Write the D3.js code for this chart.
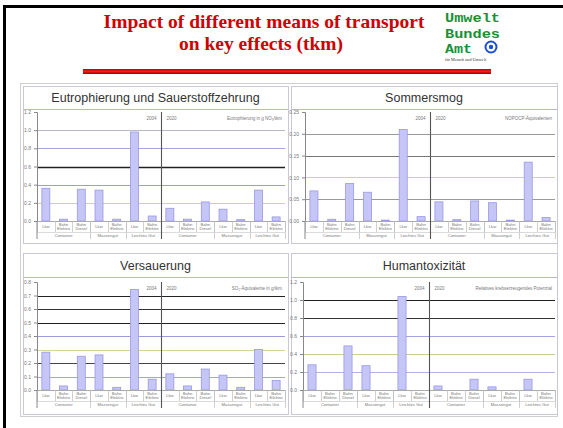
<!DOCTYPE html>
<html><head><meta charset="utf-8">
<script src="https://cdn.jsdelivr.net/npm/d3@7"></script>
<style>body{margin:0;background:#fff}svg{display:block}</style>
</head><body><svg id="c" width="563" height="428"></svg>
<script>
// ---- data ----
const years = ["2004", "2020"];
const groups = ["Container", "Massengut", "Leichtes Gut"];
const groupSizes = [3, 2, 2];
const modes = ["Lkw", "Bahn Elektro", "Bahn Diesel", "Lkw", "Bahn Elektro", "Lkw", "Bahn Elektro"];

const eutroValues = [0.36, 0.02, 0.35, 0.34, 0.02, 0.98, 0.055, 0.14, 0.02, 0.21, 0.13, 0.015, 0.34, 0.045];
const smogValues = [0.069, 0.004, 0.086, 0.066, 0.002, 0.21, 0.01, 0.044, 0.003, 0.046, 0.042, 0.002, 0.135, 0.008];
const versauerValues = [0.28, 0.03, 0.25, 0.26, 0.02, 0.745, 0.08, 0.12, 0.03, 0.155, 0.11, 0.02, 0.30, 0.07];
const humantoxValues = [0.28, 0, 0.49, 0.27, 0, 1.04, 0, 0.045, 0, 0.12, 0.035, 0, 0.12, 0];

const eutroTicks = [0, 0.2, 0.4, 0.6, 0.8, 1.0, 1.2];
const smogTicks = [0, 0.05, 0.10, 0.15, 0.20, 0.25];
const versauerTicks = [0, 0.1, 0.2, 0.3, 0.4, 0.5, 0.6, 0.7, 0.8];
const humantoxTicks = [0, 0.2, 0.4, 0.6, 0.8, 1.0, 1.2];

const titles = ["Eutrophierung und Sauerstoffzehrung", "Sommersmog", "Versauerung", "Humantoxizität"];
const units = ["Eutrophierung in g NO₃/tkm", "NOPOCP-Äquivalenten", "SO₂-Äquivalente in g/tkm", "Relatives krebserzeugendes Potenzial"];

// ---- layout / style ----
const panels = [
  {title: titles[0], unit: units[0], values: eutroValues, ticks: eutroTicks, fmt: ".1f",
   box: {x0: 23, x1: 288, y0: 86, y1: 243, tb: 109}, plot: {l: 37, r: 285, t: 112, b: 221},
   grid: ["none", "#d4d49a", "#9c9cdc", "#222", "#a4a4e0", "#b8b8cc", "none"], gw: [0, 1, 1, 1.4, 1, 1, 0]},
  {title: titles[1], unit: units[1], values: smogValues, ticks: smogTicks, fmt: ".2f",
   box: {x0: 291, x1: 557, y0: 86, y1: 243, tb: 109}, plot: {l: 305, r: 555, t: 112, b: 221},
   grid: ["none", "#9a9a9a", "#d4d49a", "#777", "#9a9a9a", "none"], gw: [0, 1, 1, 1, 1, 0]},
  {title: titles[2], unit: units[2], values: versauerValues, ticks: versauerTicks, fmt: ".1f",
   box: {x0: 23, x1: 288, y0: 253, y1: 414, tb: 277}, plot: {l: 37, r: 285, t: 282, b: 390},
   grid: ["none", "#a4a4e0", "#444", "#d4d49a", "#9c9cdc", "#222", "#333", "#222", "none"], gw: [0, 1, 1, 1, 1, 1, 1, 1.2, 0]},
  {title: titles[3], unit: units[3], values: humantoxValues, ticks: humantoxTicks, fmt: ".1f",
   box: {x0: 291, x1: 557, y0: 253, y1: 414, tb: 277}, plot: {l: 303, r: 555, t: 282, b: 390},
   grid: ["none", "#b4b4e4", "#cccc90", "#a4a4e0", "#333", "#222", "none"], gw: [0, 1, 1, 1, 1, 1.2, 0]}
];

const svg = d3.select("#c");
const defs = svg.append("defs");
const grad = defs.append("linearGradient").attr("id", "rb").attr("x1", 0).attr("y1", 0).attr("x2", 0).attr("y2", 1);
grad.append("stop").attr("offset", "0%").attr("stop-color", "#b00000");
grad.append("stop").attr("offset", "45%").attr("stop-color", "#ff1a1a");
grad.append("stop").attr("offset", "100%").attr("stop-color", "#a00000");

// slide border
svg.append("rect").attr("x", 3).attr("y", 5).attr("width", 560).attr("height", 3).attr("fill", "#000");
svg.append("rect").attr("x", 3).attr("y", 5).attr("width", 3).attr("height", 423).attr("fill", "#000");

// title
const tt = svg.append("text").attr("text-anchor", "middle").attr("fill", "#d00000")
  .attr("font-family", "Liberation Serif, Times New Roman, serif").attr("font-weight", "bold").attr("font-size", 19.5);
tt.append("tspan").attr("x", 264).attr("y", 28).text("Impact of different means of transport");
tt.append("tspan").attr("x", 261).attr("y", 50).text("on key effects (tkm)");

// red bar
svg.append("rect").attr("x", 83).attr("y", 69).attr("width", 408).attr("height", 5).attr("fill", "url(#rb)");

// logo
const logoLines = [["Umwelt", 22, 55], ["Bundes", 37.5, 55], ["Amt", 53, 27]];
logoLines.forEach(([s, yy, w]) => {
  svg.append("text").attr("x", 445).attr("y", yy).attr("fill", "#1c8f36").attr("font-weight", "bold")
    .attr("font-family", "Liberation Mono, DejaVu Sans Mono, monospace").attr("font-size", 13.5)
    .attr("textLength", w).attr("lengthAdjust", "spacingAndGlyphs").text(s);
});
svg.append("circle").attr("cx", 491).attr("cy", 47).attr("r", 5.5).attr("fill", "#fff").attr("stroke", "#1d4fd0").attr("stroke-width", 2);
svg.append("circle").attr("cx", 491).attr("cy", 47).attr("r", 2.2).attr("fill", "#1d4fd0");
svg.append("text").attr("x", 445).attr("y", 61).attr("font-size", 4.2).attr("fill", "#333")
  .attr("font-family", "Liberation Serif, serif").text("für Mensch und Umwelt");

// chart frame
svg.append("rect").attr("x", 20.5).attr("y", 83.5).attr("width", 537).attr("height", 333).attr("fill", "none").attr("stroke", "#cfcfcf");

const font = "Liberation Sans, Arial, sans-serif";

panels.forEach(p => {
  const g = svg.append("g");
  const {box, plot} = p;
  // panel box and title box
  g.append("rect").attr("x", box.x0 + 0.5).attr("y", box.y0 + 0.5).attr("width", box.x1 - box.x0).attr("height", box.y1 - box.y0)
    .attr("fill", "#fff").attr("stroke", "#c8c8d8");
  g.append("line").attr("x1", box.x0).attr("x2", box.x1).attr("y1", box.tb + 0.5).attr("y2", box.tb + 0.5).attr("stroke", "#b8b8dc");
  g.append("text").attr("x", (box.x0 + box.x1) / 2).attr("y", (box.y0 + box.tb) / 2 + 4.5).attr("text-anchor", "middle")
    .attr("font-family", font).attr("font-size", 12.5).attr("fill", "#333").text(p.title);

  const y = d3.scaleLinear().domain([0, d3.max(p.ticks)]).range([plot.b, plot.t]);
  const x = d3.scaleBand().domain(d3.range(p.values.length)).range([plot.l, plot.r]).paddingInner(0.55).paddingOuter(0.275);
  const cell = d3.scaleBand().domain(d3.range(p.values.length)).range([plot.l, plot.r]);

  // gridlines
  g.selectAll(".grid").data(p.ticks.map((t, i) => ({t, c: p.grid[i], w: p.gw[i]})).filter(d => d.c !== "none"))
    .join("line").attr("x1", plot.l).attr("x2", plot.r).attr("y1", d => Math.round(y(d.t)) + 0.5).attr("y2", d => Math.round(y(d.t)) + 0.5)
    .attr("stroke", d => d.c).attr("stroke-width", d => d.w);

  // y axis
  const ax = g.append("g").attr("transform", `translate(${plot.l},0)`)
    .call(d3.axisLeft(y).tickValues(p.ticks).tickFormat(d3.format(p.fmt)).tickSize(3).tickPadding(3));
  ax.select(".domain").attr("stroke", "#888");
  ax.selectAll(".tick line").attr("stroke", "#888");
  ax.selectAll("text").attr("font-size", 5).attr("fill", "#777").attr("font-family", font);

  // bars
  g.selectAll(".bar").data(p.values).join("rect")
    .attr("x", (d, i) => x(i)).attr("width", x.bandwidth())
    .attr("y", d => y(d)).attr("height", d => Math.max(0, y(0) - y(d)))
    .attr("fill", "#c6c6f6").attr("stroke", "#9898e4").attr("stroke-width", 0.8);

  // baseline
  g.append("line").attr("x1", plot.l).attr("x2", plot.r).attr("y1", plot.b + 0.5).attr("y2", plot.b + 0.5).attr("stroke", "#aaa");

  // category axis: mode labels
  const row1 = plot.b + 11, row2 = plot.b + 18;
  g.selectAll(".sep").data(d3.range(p.values.length + 1)).join("line")
    .attr("x1", i => Math.round(plot.l + i * cell.step()) + 0.5).attr("x2", i => Math.round(plot.l + i * cell.step()) + 0.5)
    .attr("y1", plot.b).attr("y2", row1).attr("stroke", "#bbb").attr("stroke-width", 0.7);
  const allModes = years.flatMap(() => modes);
  allModes.forEach((m, i) => {
    const parts = m.split(" ");
    const t = g.append("text").attr("text-anchor", "middle").attr("font-family", font).attr("font-size", 4.2).attr("fill", "#777");
    parts.forEach((s, k) => t.append("tspan").attr("x", cell(i) + cell.step() / 2)
      .attr("y", plot.b + (parts.length === 1 ? 6.5 : 5 + k * 4.3)).text(s));
  });
  // group labels
  let idx = 0;
  years.forEach((yr, yi) => {
    groups.forEach((gr, gi) => {
      const s = idx, e = idx + groupSizes[gi];
      const x0 = plot.l + s * cell.step(), x1 = plot.l + e * cell.step();
      g.append("line").attr("x1", Math.round(x1) + 0.5).attr("x2", Math.round(x1) + 0.5).attr("y1", plot.b).attr("y2", row2).attr("stroke", "#bbb").attr("stroke-width", 0.7);
      g.append("text").attr("x", (x0 + x1) / 2).attr("y", row1 + 4.5).attr("text-anchor", "middle")
        .attr("font-family", font).attr("font-size", 4.2).attr("fill", "#777").text(gr);
      idx = e;
    });
  });
  g.append("line").attr("x1", plot.l).attr("x2", plot.r).attr("y1", row1 + 0.5).attr("y2", row1 + 0.5).attr("stroke", "#ccc").attr("stroke-width", 0.7);
  g.append("line").attr("x1", plot.l).attr("x2", plot.l).attr("y1", plot.b).attr("y2", row2).attr("stroke", "#888");

  // year divider
  const dx = Math.round(plot.l + 7 * cell.step()) + 0.5;
  g.append("line").attr("x1", dx).attr("x2", dx).attr("y1", plot.t).attr("y2", row2).attr("stroke", "#555").attr("stroke-width", 1.1);
  g.append("text").attr("x", dx - 5).attr("y", plot.t + 8).attr("text-anchor", "end").attr("font-family", font).attr("font-size", 4.5).attr("fill", "#777").text(years[0]);
  g.append("text").attr("x", dx + 5).attr("y", plot.t + 8).attr("font-family", font).attr("font-size", 4.5).attr("fill", "#777").text(years[1]);
  g.append("text").attr("x", plot.r - 3).attr("y", plot.t + 8).attr("text-anchor", "end").attr("font-family", font).attr("font-size", 4.5).attr("fill", "#777").text(p.unit);
});
</script></body></html>
